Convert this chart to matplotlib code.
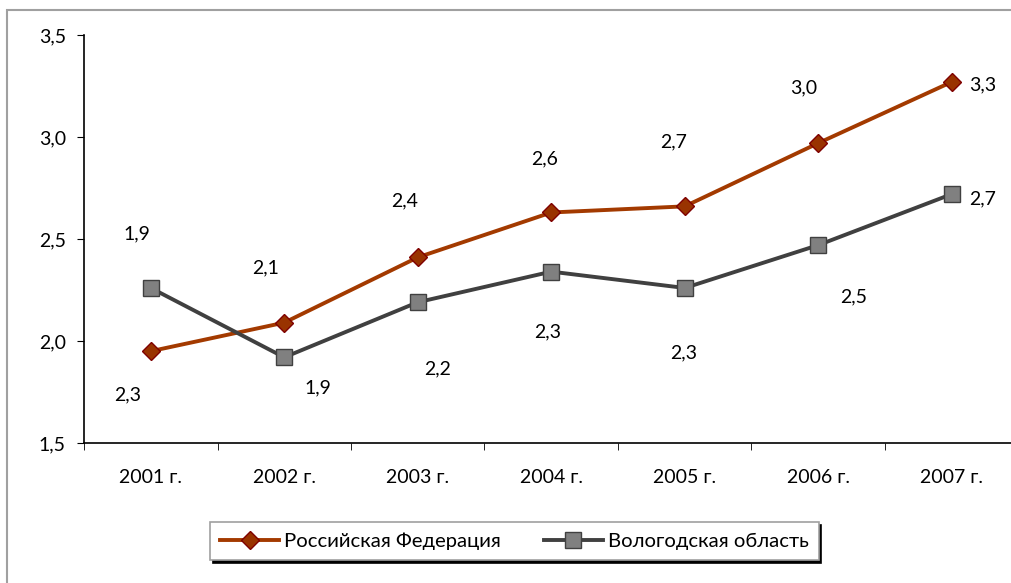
import matplotlib.pyplot as plt
from matplotlib.patches import Rectangle

# data
years = ['2001 г.', '2002 г.', '2003 г.', '2004 г.', '2005 г.', '2006 г.', '2007 г.']
rf_values = [1.95, 2.09, 2.41, 2.63, 2.66, 2.97, 3.27]
vo_values = [2.26, 1.92, 2.19, 2.34, 2.26, 2.47, 2.72]
rf_labels = ['2,3', '2,1', '2,4', '2,6', '2,7', '3,0', '3,3']
vo_labels = ['1,9', '1,9', '2,2', '2,3', '2,3', '2,5', '2,7']

# label offsets in pixels (dx, dy) from the point
rf_offsets = [(-23, -44), (-19, 55), (-13, 56), (-7, 54), (-11, 64), (-15, 55), (31, -3)]
vo_offsets = [(-14, 54), (34, -31), (20, -67), (-4, -60), (-1, -65), (35, -52), (31, -5)]

plt.rcParams['font.family'] = ['Lato', 'DejaVu Sans']
FS = 14

W, H = 1012, 583
fig = plt.figure(figsize=(W / 100, H / 100), dpi=100)

# outer chart border (runs off the right and bottom of the image)
fig.patches.append(Rectangle((7 / W, -0.1), 1.2, 1 - 10 / H + 0.1, transform=fig.transFigure,
                             fill=False, edgecolor='#a0a0a0', linewidth=1.5))

ax = fig.add_axes([84 / W, 1 - 443 / H, 934.5 / W, 408 / H])

x = list(range(len(years)))
ax.plot(x, rf_values, color='#a33a00', linewidth=2.8, marker='D', markersize=9.5,
        markerfacecolor='#993300', markeredgecolor='#7f0000', markeredgewidth=1,
        label='Российская Федерация')
ax.plot(x, vo_values, color='#404040', linewidth=2.8, marker='s', markersize=11.5,
        markerfacecolor='#808080', markeredgecolor='#404040', markeredgewidth=1,
        label='Вологодская область')

for xi, v, lab, off in zip(x, rf_values, rf_labels, rf_offsets):
    ax.annotate(lab, (xi, v), xytext=off, textcoords='offset pixels',
                ha='center', va='center', fontsize=FS)
for xi, v, lab, off in zip(x, vo_values, vo_labels, vo_offsets):
    ax.annotate(lab, (xi, v), xytext=off, textcoords='offset pixels',
                ha='center', va='center', fontsize=FS)

ax.set_xlim(-0.5, len(years) - 0.5)
ax.set_ylim(1.5, 3.5)
ax.set_yticks([1.5, 2.0, 2.5, 3.0, 3.5])
ax.set_yticklabels(['1,5', '2,0', '2,5', '3,0', '3,5'])
ax.set_xticks(x)
ax.set_xticklabels(years)
ax.set_xticks([i - 0.5 for i in range(len(years) + 1)], minor=True)
ax.tick_params(axis='x', which='major', length=0, pad=19, labelsize=FS)
ax.tick_params(axis='x', which='minor', length=5, direction='out')
ax.tick_params(axis='y', length=5, direction='out', pad=8, labelsize=FS)

for s in ['top', 'right']:
    ax.spines[s].set_visible(False)
for s in ['left', 'bottom']:
    ax.spines[s].set_linewidth(1.2)

leg = fig.legend(loc='center', bbox_to_anchor=(514.5 / W, 1 - 541 / H), ncol=2,
                 fontsize=14.6, frameon=True, fancybox=False, framealpha=1,
                 edgecolor='#a0a0a0', shadow={'color': 'black', 'alpha': 1},
                 handlelength=2.9, handletextpad=0.25, columnspacing=2.1,
                 borderpad=0.5)
leg.get_frame().set_linewidth(1.2)

fig.savefig('out.png', dpi=100)
